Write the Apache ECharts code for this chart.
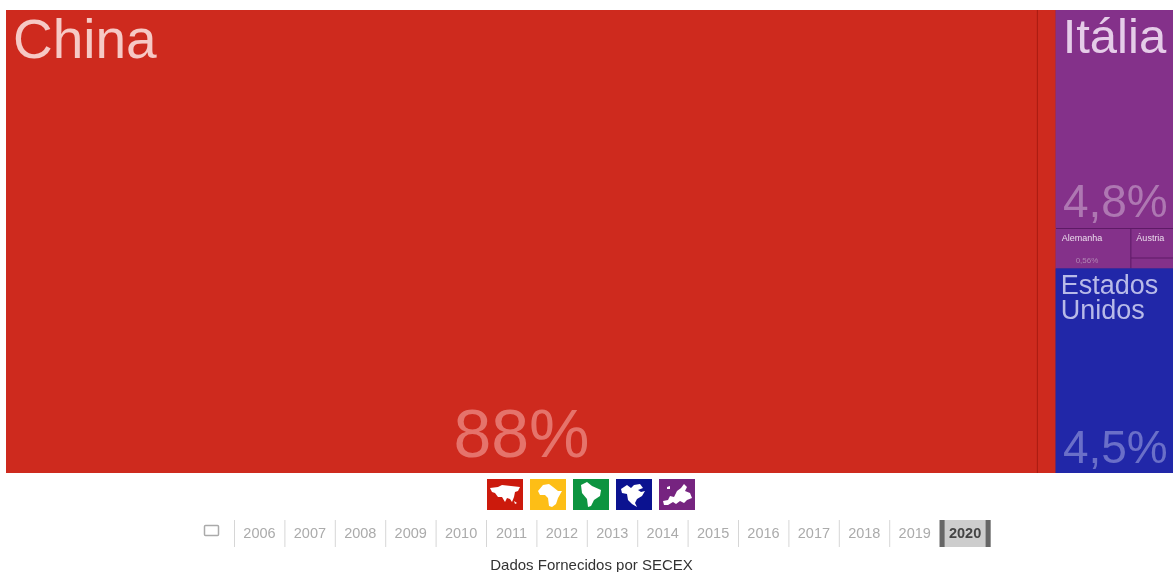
<!DOCTYPE html>
<html>
<head>
<meta charset="utf-8">
<title>Dados Fornecidos por SECEX</title>
<style>html,body{margin:0;padding:0;background:#fff}#chart{width:1173px;height:572px}</style>
<script src="https://cdn.jsdelivr.net/npm/echarts@6/dist/echarts.min.js"></script>
</head>
<body>
<div id="chart"></div>
<script>
// Destination shares per continent, in percent of the 2020 total.
const asiaNames = ['China', 'Outros (Ásia)'];
const asiaValues = [88, 1.6];
const europeNames = ['Itália', 'Alemanha', 'Áustria', 'Outros (Europa)'];
const europeValues = [4.8, 0.56, 0.24, 0.09];
const americaNames = ['Estados Unidos'];
const americaValues = [4.5];
const years = ['2006', '2007', '2008', '2009', '2010', '2011', '2012', '2013', '2014', '2015', '2016', '2017', '2018', '2019', '2020'];
const selectedYear = '2020';
const creditLine = 'Dados Fornecidos por SECEX';

// Appearance per continent and per labelled country.
const asiaStyle = { color: '#CE2A1E', borderColor: '#A81C12' };
const europeStyle = { color: '#84318A', borderColor: '#5E1A66' };
const americaStyle = { color: '#2127A8', borderColor: '#161A8C' };
const nameLabels = {
  'China': { fontSize: 55, color: '#F6C9C5', padding: [5, 0, 0, 7] },
  'Itália': { fontSize: 49, color: '#E5CCE8', padding: [5, 0, 0, 7] },
  'Estados Unidos': { fontSize: 27, lineHeight: 25, color: '#B8BAE8', padding: [6, 0, 0, 5] },
  'Alemanha': { fontSize: 9, color: '#EBDCEC', padding: [5, 0, 0, 6] },
  'Áustria': { fontSize: 9, color: '#EBDCEC', padding: [5, 0, 0, 5] }
};
const shareLabels = {
  'China': { fontSize: 68, color: '#E5736B', padding: [0, 0, 1, 0] },
  'Itália': { fontSize: 46, color: '#AE77B2', padding: [0, 0, 1, 0] },
  'Estados Unidos': { fontSize: 46, color: '#6A6FC8', padding: [0, 0, 0, 0] },
  'Alemanha': { fontSize: 8, color: '#B086B4', padding: [0, 12, 4, 0] }
};

function leaves(names, values, style, labels) {
  return names.map((name, i) => ({
    name,
    value: values[i],
    itemStyle: { color: style.color, borderColor: style.borderColor },
    label: labels[name] || { show: false }
  }));
}

function region(name, style, children) {
  return { name, itemStyle: { borderColor: style.borderColor }, children };
}

function treeData(labels) {
  return [
    region('Ásia', asiaStyle, leaves(asiaNames, asiaValues, asiaStyle, labels)),
    region('Europa', europeStyle, leaves(europeNames, europeValues, europeStyle, labels)),
    region('América do Norte', americaStyle, leaves(americaNames, americaValues, americaStyle, labels))
  ];
}

const treeBase = {
  type: 'treemap',
  left: 6, top: 10, right: -2, bottom: 99,
  squareRatio: 3,
  roam: false,
  nodeClick: false,
  silent: true,
  breadcrumb: { show: false },
  animation: false,
  itemStyle: { borderColor: 'rgba(0,0,0,0)' },
  levels: [
    { itemStyle: { gapWidth: 0, borderWidth: 0 } },
    { itemStyle: { gapWidth: 1, borderWidth: 0 } }
  ]
};

const fontFamily = '"Liberation Sans", Arial, sans-serif';

// Two overlaid treemaps share one layout: names sit top-left, shares bottom-centre.
const nameSeries = Object.assign({}, treeBase, {
  data: treeData(nameLabels),
  label: {
    show: true, position: 'insideTopLeft', overflow: 'none', fontFamily,
    formatter: p => p.name.replace(' ', '\n')
  }
});
const shareSeries = Object.assign({}, treeBase, {
  data: treeData(shareLabels),
  label: {
    show: true, position: 'insideBottom', overflow: 'none', fontFamily,
    formatter: p => String(p.value).replace('.', ',') + '%'
  }
});
shareSeries.data.forEach(node => {
  node.itemStyle = { borderColor: 'rgba(0,0,0,0)', color: 'rgba(0,0,0,0)' };
  node.children.forEach(leaf => {
    leaf.itemStyle = { color: 'rgba(0,0,0,0)', borderColor: 'rgba(0,0,0,0)' };
  });
});

// Continent buttons: coloured tile with a simplified white silhouette.
const continentButtons = [
  { fill: '#CC1A0C', shapes: [
    [[3,9],[11,8],[15,6],[24,7],[33,8],[31,12],[28,13],[27,18],[25,23],[23,20],[20,19],[18,23],[15,18],[11,18],[8,14],[5,13]],
    [[27,22],[30,24],[28,25]]
  ] },
  { fill: '#FDBE16', shapes: [
    [[8,12],[13,6],[19,5],[23,8],[28,12],[32,12],[28,19],[26,25],[22,28],[19,27],[18,19],[15,16],[10,16]]
  ] },
  { fill: '#0C9440', shapes: [
    [[8,6],[14,3],[19,7],[28,11],[27,17],[21,21],[18,27],[15,28],[14,20],[9,14]]
  ] },
  { fill: '#0B1290', shapes: [
    [[5,10],[11,6],[15,9],[18,6],[24,5],[27,9],[22,11],[25,13],[29,12],[26,17],[21,20],[19,24],[21,28],[16,25],[12,21],[11,15],[6,14]]
  ] },
  { fill: '#762480', shapes: [
    [[4,22],[9,21],[11,17],[15,18],[18,12],[22,9],[25,5],[28,8],[26,12],[31,14],[33,19],[28,21],[25,24],[21,22],[17,25],[14,23],[9,26],[5,26]],
    [[8,8],[11,7],[11,10],[8,10]]
  ] }
];

const graphics = [];
continentButtons.forEach((b, i) => {
  const x = 487 + i * 43;
  graphics.push({ type: 'rect', shape: { x, y: 479, width: 36, height: 31 }, style: { fill: b.fill } });
  b.shapes.forEach(points => {
    graphics.push({ type: 'polygon', x, y: 479, shape: { points }, style: { fill: '#fff' } });
  });
});

// Play toggle and the year selector strip.
graphics.push({ type: 'rect', shape: { x: 204.5, y: 525.5, width: 14, height: 10, r: 1 }, style: { fill: '#fff', stroke: '#aaa', lineWidth: 1.5 } });
const stripLeft = 234, stripStep = 50.4;
years.forEach((year, i) => {
  const x = stripLeft + i * stripStep;
  const active = year === selectedYear;
  if (active) {
    graphics.push({ type: 'rect', shape: { x: x, y: 520, width: 51, height: 27 }, style: { fill: '#CDCDCD' } });
    graphics.push({ type: 'rect', shape: { x: x, y: 520, width: 5, height: 27 }, style: { fill: '#666' } });
    graphics.push({ type: 'rect', shape: { x: x + 46, y: 520, width: 5, height: 27 }, style: { fill: '#666' } });
  } else {
    graphics.push({ type: 'rect', shape: { x: x, y: 520, width: 1, height: 27 }, style: { fill: '#D6D6D6' } });
  }
  graphics.push({
    type: 'text', x: x + 25.5, y: 533.5,
    style: {
      text: year, fill: active ? '#444' : '#ABABAB', align: 'center', verticalAlign: 'middle',
      font: (active ? 'bold ' : '') + '14.5px ' + fontFamily
    }
  });
});

graphics.push({
  type: 'text', x: 591.5, y: 565.5,
  style: { text: creditLine, fill: '#333', align: 'center', verticalAlign: 'middle', font: '15px ' + fontFamily }
});

const chart = echarts.init(document.getElementById('chart'), null, { renderer: 'canvas' });
chart.setOption({
  animation: false,
  backgroundColor: '#fff',
  series: [nameSeries, shareSeries],
  graphic: graphics
});
</script>
</body>
</html>
